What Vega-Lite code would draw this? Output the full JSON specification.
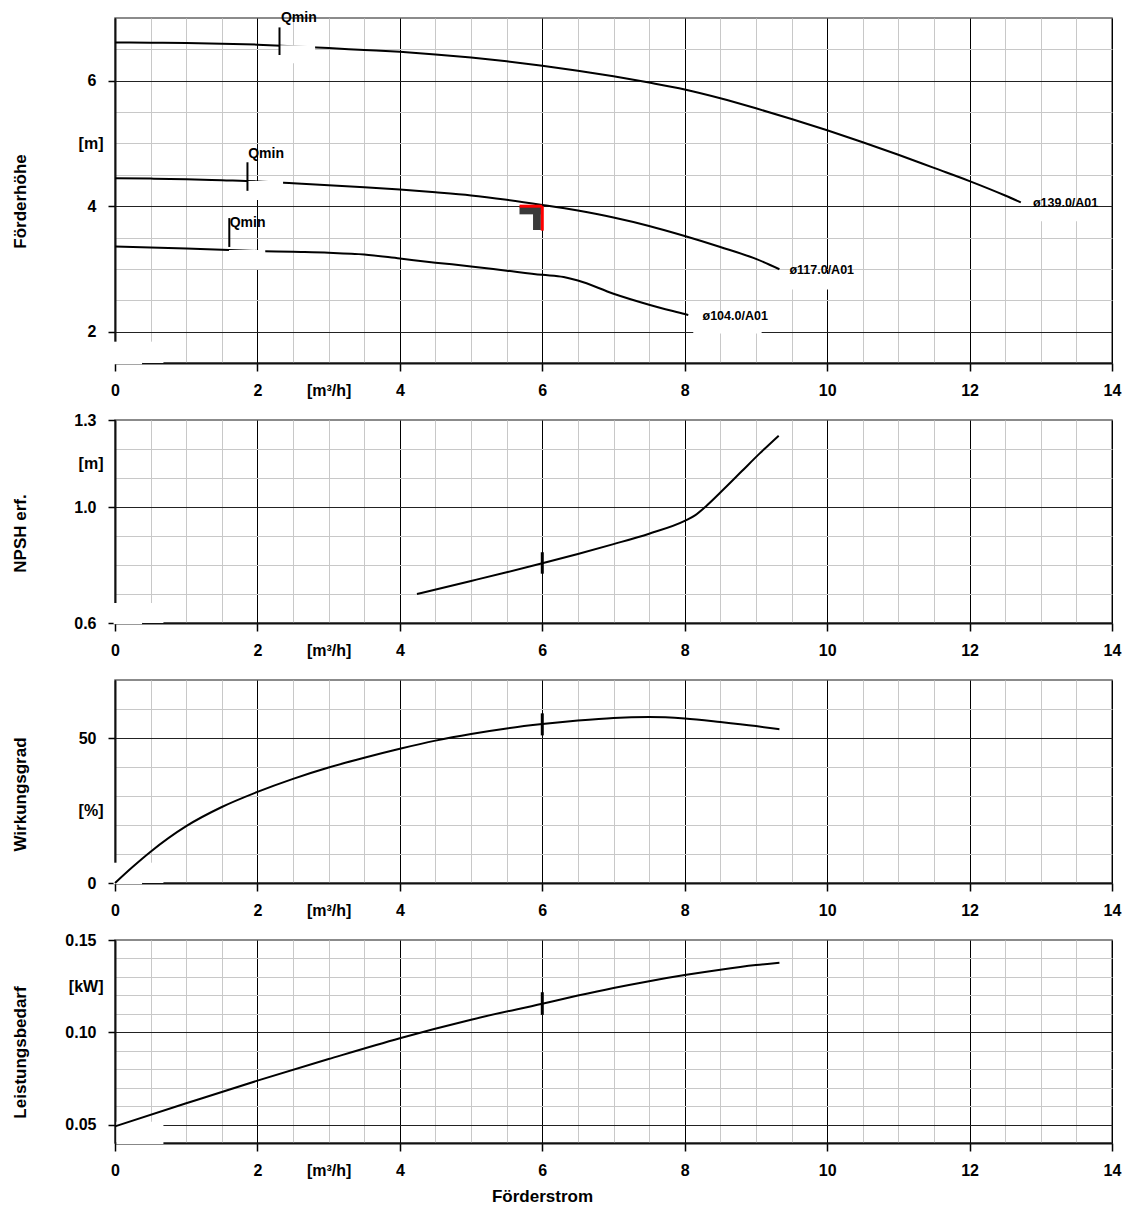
{
  "$schema": "https://vega.github.io/schema/vega-lite/v6.json",
  "background": "white",
  "padding": {"left": 10, "top": 10, "right": 2, "bottom": 5},
  "spacing": 57,
  "bounds": "flush",
  "datasets": {
    "head": [
      {"d":"139","q":0,"v":6.61},{"d":"139","q":0.5,"v":6.605},{"d":"139","q":1,"v":6.6},{"d":"139","q":1.5,"v":6.59},{"d":"139","q":2,"v":6.575},{"d":"139","q":2.5,"v":6.55},{"d":"139","q":3,"v":6.52},{"d":"139","q":3.5,"v":6.49},{"d":"139","q":4,"v":6.46},{"d":"139","q":4.5,"v":6.42},{"d":"139","q":5,"v":6.37},{"d":"139","q":5.5,"v":6.31},{"d":"139","q":6,"v":6.24},{"d":"139","q":6.5,"v":6.16},{"d":"139","q":7,"v":6.07},{"d":"139","q":7.5,"v":5.97},{"d":"139","q":8,"v":5.86},{"d":"139","q":8.5,"v":5.72},{"d":"139","q":9,"v":5.56},{"d":"139","q":9.5,"v":5.39},{"d":"139","q":10,"v":5.21},{"d":"139","q":10.5,"v":5.02},{"d":"139","q":11,"v":4.82},{"d":"139","q":11.5,"v":4.61},{"d":"139","q":12,"v":4.4},{"d":"139","q":12.5,"v":4.17},{"d":"139","q":12.72,"v":4.06},
      {"d":"117","q":0,"v":4.447},{"d":"117","q":0.5,"v":4.44},{"d":"117","q":1,"v":4.43},{"d":"117","q":1.5,"v":4.413},{"d":"117","q":2,"v":4.395},{"d":"117","q":2.5,"v":4.365},{"d":"117","q":3,"v":4.333},{"d":"117","q":3.5,"v":4.3},{"d":"117","q":4,"v":4.265},{"d":"117","q":4.5,"v":4.222},{"d":"117","q":5,"v":4.172},{"d":"117","q":5.5,"v":4.102},{"d":"117","q":6,"v":4.02},{"d":"117","q":6.5,"v":3.93},{"d":"117","q":7,"v":3.82},{"d":"117","q":7.5,"v":3.685},{"d":"117","q":8,"v":3.525},{"d":"117","q":8.5,"v":3.35},{"d":"117","q":9,"v":3.16},{"d":"117","q":9.33,"v":2.995},
      {"d":"104","q":0,"v":3.356},{"d":"104","q":0.5,"v":3.342},{"d":"104","q":1,"v":3.325},{"d":"104","q":1.6,"v":3.3},{"d":"104","q":2.1,"v":3.283},{"d":"104","q":2.5,"v":3.272},{"d":"104","q":3,"v":3.258},{"d":"104","q":3.5,"v":3.23},{"d":"104","q":4,"v":3.165},{"d":"104","q":4.5,"v":3.1},{"d":"104","q":5,"v":3.04},{"d":"104","q":5.5,"v":2.972},{"d":"104","q":6,"v":2.905},{"d":"104","q":6.3,"v":2.87},{"d":"104","q":6.5,"v":2.815},{"d":"104","q":7,"v":2.605},{"d":"104","q":7.5,"v":2.43},{"d":"104","q":8,"v":2.28},{"d":"104","q":8.05,"v":2.265}
    ],
    "qminTicks": [
      {"q":2.31,"v":6.85,"v2":6.41},{"q":1.86,"v":4.7,"v2":4.245},{"q":1.605,"v":3.81,"v2":3.35}
    ],
    "qminText": [
      {"q":2.33,"v":7.0,"t":"Qmin"},{"q":1.87,"v":4.83,"t":"Qmin"},{"q":1.61,"v":3.73,"t":"Qmin"}
    ],
    "curveText": [
      {"q":12.89,"v":4.05,"t":"ø139.0/A01"},{"q":9.47,"v":2.98,"t":"ø117.0/A01"},{"q":8.25,"v":2.25,"t":"ø104.0/A01"}
    ],
    "boxes1": [
      {"q":2.31,"q2":2.81,"v":6.28,"v2":6.565},{"q":1.86,"q2":2.36,"v":4.1,"v2":4.4},{"q":1.6,"q2":2.11,"v":3.0,"v2":3.3},
      {"q":12.75,"q2":13.85,"v":3.76,"v2":3.985},{"q":9.35,"q2":10.45,"v":2.67,"v2":2.92},{"q":8.12,"q2":9.08,"v":1.97,"v2":2.18},
      {"q":-0.02,"q2":0.38,"v":1.48,"v2":1.84},{"q":0.38,"q2":0.68,"v":1.5,"v2":1.84}
    ],
    "dutyMarkBlack": [
      {"q":5.68,"q2":5.98,"v":3.87,"v2":3.99},{"q":5.87,"q2":5.98,"v":3.62,"v2":3.99}
    ],
    "dutyMarkRed": [
      {"q":5.68,"q2":6.0,"v":4.0,"v2":4.0},{"q":6.0,"q2":6.0,"v":4.0,"v2":3.61}
    ],
    "npsh": [
      {"q":4.24,"v":0.7},{"q":5,"v":0.745},{"q":5.5,"v":0.775},{"q":6,"v":0.806},{"q":6.5,"v":0.838},{"q":7,"v":0.872},{"q":7.5,"v":0.908},{"q":8,"v":0.952},{"q":8.15,"v":0.972},{"q":8.3,"v":1.003},{"q":8.55,"v":1.062},{"q":8.8,"v":1.123},{"q":9.05,"v":1.184},{"q":9.32,"v":1.246}
    ],
    "npshTick": [{"q":6,"v":0.77,"v2":0.844}],
    "boxes2": [{"q":-0.02,"q2":0.38,"v":0.596,"v2":0.669},{"q":0.38,"q2":0.68,"v":0.6,"v2":0.669}],
    "eff": [
      {"q":0,"v":0},{"q":0.25,"v":5.6},{"q":0.5,"v":10.8},{"q":1,"v":19.6},{"q":1.5,"v":26.2},{"q":2,"v":31.4},{"q":2.5,"v":35.9},{"q":3,"v":39.8},{"q":3.5,"v":43.2},{"q":4,"v":46.3},{"q":4.5,"v":49.1},{"q":5,"v":51.4},{"q":5.5,"v":53.3},{"q":6,"v":54.8},{"q":6.5,"v":56.0},{"q":7,"v":56.9},{"q":7.5,"v":57.2},{"q":8,"v":56.7},{"q":8.5,"v":55.5},{"q":9,"v":54.1},{"q":9.33,"v":53.0}
    ],
    "effTick": [{"q":6,"v":50.9,"v2":58.5}],
    "boxes3": [{"q":-0.02,"q2":0.38,"v":-0.4,"v2":7},{"q":0.38,"q2":0.68,"v":0,"v2":7}],
    "power": [
      {"q":0,"v":0.049},{"q":1,"v":0.0615},{"q":2,"v":0.0738},{"q":3,"v":0.0855},{"q":4,"v":0.0968},{"q":5,"v":0.1068},{"q":6,"v":0.1155},{"q":6.5,"v":0.1199},{"q":7,"v":0.124},{"q":7.5,"v":0.1277},{"q":8,"v":0.131},{"q":8.5,"v":0.1339},{"q":9,"v":0.1364},{"q":9.33,"v":0.1377}
    ],
    "powerTick": [{"q":6,"v":0.1094,"v2":0.1217}],
    "boxes4": [{"q":0.02,"q2":0.68,"v":0.0395,"v2":0.0515}]
  },
  "vconcat": [
    {
      "width": 997,
      "height": 345,
      "encoding": {
        "x": {"field":"q","type":"quantitative","scale":{"domain":[0,14],"nice":false,"zero":false},
          "axis":{"values":[0,0.5,1,1.5,2,2.5,3,3.5,4,4.5,5,5.5,6,6.5,7,7.5,8,8.5,9,9.5,10,10.5,11,11.5,12,12.5,13,13.5,14],"title":null,"grid":true,
            "gridColor":{"condition":{"test":"datum.value % 2 == 0","value":"#000000"},"value":"#c8c8c8"},
            "tickOpacity":{"condition":{"test":"datum.value % 2 == 0","value":1},"value":0},
            "labelExpr":"datum.value == 3 ? '[m³/h]' : (datum.value % 2 == 0 ? format(datum.value, 'd') : '')"}},
        "y": {"field":"v","type":"quantitative","scale":{"domain":[1.5,7],"nice":false,"zero":false},
          "axis":{"values":[2,2.5,3,3.5,4,4.5,5,5.5,6,6.5],"title":"Förderhöhe","titleX":-95,"titleY":183,"titleAngle":-90,"titleAlign":"center","titleBaseline":"middle","grid":true,
            "gridColor":{"condition":{"test":"datum.value == 2 || datum.value == 4 || datum.value == 6","value":"#222222"},"value":"#c8c8c8"},
            "tickOpacity":{"condition":{"test":"datum.value == 2 || datum.value == 4 || datum.value == 6","value":1},"value":0},
            "labelPadding":{"condition":{"test":"datum.value == 5","value":5},"value":12},
            "labelExpr":"datum.value == 5 ? '[m]' : (datum.value == 2 || datum.value == 4 || datum.value == 6 ? format(datum.value, 'd') : '')"}}
      },
      "layer": [
        {"data":{"name":"head"},"mark":{"type":"line","interpolate":"monotone","color":"#000","strokeWidth":2},"encoding":{"detail":{"field":"d"}}},
        {"data":{"name":"boxes1"},"mark":{"type":"rect","color":"#ffffff"},"encoding":{"x2":{"field":"q2"},"y2":{"field":"v2"}}},
        {"data":{"name":"qminTicks"},"mark":{"type":"rule","color":"#000","strokeWidth":2},"encoding":{"y2":{"field":"v2"}}},
        {"data":{"name":"qminText"},"mark":{"type":"text","align":"left","baseline":"middle","font":"Liberation Sans","fontWeight":"bold","fontSize":14,"color":"#000"},"encoding":{"text":{"field":"t"}}},
        {"data":{"name":"curveText"},"mark":{"type":"text","align":"left","baseline":"middle","font":"Liberation Sans","fontWeight":"bold","fontSize":12.5,"color":"#000"},"encoding":{"text":{"field":"t"}}},
        {"data":{"name":"dutyMarkBlack"},"mark":{"type":"rect","color":"#3a3a3a"},"encoding":{"x2":{"field":"q2"},"y2":{"field":"v2"}}},
        {"data":{"name":"dutyMarkRed"},"mark":{"type":"rule","color":"#ff0000","strokeWidth":3},"encoding":{"x2":{"field":"q2"},"y2":{"field":"v2"}}}
      ]
    },
    {
      "width": 997,
      "height": 203,
      "encoding": {
        "x": {"field":"q","type":"quantitative","scale":{"domain":[0,14],"nice":false,"zero":false},
          "axis":{"values":[0,0.5,1,1.5,2,2.5,3,3.5,4,4.5,5,5.5,6,6.5,7,7.5,8,8.5,9,9.5,10,10.5,11,11.5,12,12.5,13,13.5,14],"title":null,"grid":true,
            "gridColor":{"condition":{"test":"datum.value % 2 == 0","value":"#000000"},"value":"#c8c8c8"},
            "tickOpacity":{"condition":{"test":"datum.value % 2 == 0","value":1},"value":0},
            "labelExpr":"datum.value == 3 ? '[m³/h]' : (datum.value % 2 == 0 ? format(datum.value, 'd') : '')"}},
        "y": {"field":"v","type":"quantitative","scale":{"domain":[0.6,1.3],"nice":false,"zero":false},
          "axis":{"values":[0.6,0.7,0.8,0.9,1.0,1.1,1.15,1.2,1.3],"title":"NPSH erf.","titleX":-95,"titleY":113,"titleAngle":-90,"titleAlign":"center","titleBaseline":"middle","grid":true,
            "gridColor":{"condition":{"test":"datum.value == 1","value":"#222222"},"value":"#c8c8c8"},
            "gridOpacity":{"condition":{"test":"datum.value == 0.6 || datum.value == 1.15 || datum.value == 1.3","value":0},"value":1},
            "tickOpacity":{"condition":{"test":"datum.value == 0.6 || datum.value == 1 || datum.value == 1.3","value":1},"value":0},
            "labelPadding":{"condition":{"test":"datum.value == 1.15","value":5},"value":12},
            "labelExpr":"datum.value == 1.15 ? '[m]' : (datum.value == 0.6 || datum.value == 1 || datum.value == 1.3 ? format(datum.value, '.1f') : '')"}}
      },
      "layer": [
        {"data":{"name":"boxes2"},"mark":{"type":"rect","color":"#ffffff"},"encoding":{"x2":{"field":"q2"},"y2":{"field":"v2"}}},
        {"data":{"name":"npsh"},"mark":{"type":"line","interpolate":"monotone","color":"#000","strokeWidth":2}},
        {"data":{"name":"npshTick"},"mark":{"type":"rule","color":"#000","strokeWidth":3},"encoding":{"y2":{"field":"v2"}}}
      ]
    },
    {
      "width": 997,
      "height": 203,
      "encoding": {
        "x": {"field":"q","type":"quantitative","scale":{"domain":[0,14],"nice":false,"zero":false},
          "axis":{"values":[0,0.5,1,1.5,2,2.5,3,3.5,4,4.5,5,5.5,6,6.5,7,7.5,8,8.5,9,9.5,10,10.5,11,11.5,12,12.5,13,13.5,14],"title":null,"grid":true,
            "gridColor":{"condition":{"test":"datum.value % 2 == 0","value":"#000000"},"value":"#c8c8c8"},
            "tickOpacity":{"condition":{"test":"datum.value % 2 == 0","value":1},"value":0},
            "labelExpr":"datum.value == 3 ? '[m³/h]' : (datum.value % 2 == 0 ? format(datum.value, 'd') : '')"}},
        "y": {"field":"v","type":"quantitative","scale":{"domain":[0,70],"nice":false,"zero":false},
          "axis":{"values":[0,10,20,25,30,40,50,60,70],"title":"Wirkungsgrad","titleX":-95,"titleY":114,"titleAngle":-90,"titleAlign":"center","titleBaseline":"middle","grid":true,
            "gridColor":{"condition":{"test":"datum.value == 50","value":"#222222"},"value":"#c8c8c8"},
            "gridOpacity":{"condition":{"test":"datum.value == 0 || datum.value == 25 || datum.value == 70","value":0},"value":1},
            "tickOpacity":{"condition":{"test":"datum.value == 0 || datum.value == 50","value":1},"value":0},
            "labelPadding":{"condition":{"test":"datum.value == 25","value":5},"value":12},
            "labelExpr":"datum.value == 25 ? '[%]' : (datum.value == 0 || datum.value == 50 ? format(datum.value, 'd') : '')"}}
      },
      "layer": [
        {"data":{"name":"boxes3"},"mark":{"type":"rect","color":"#ffffff"},"encoding":{"x2":{"field":"q2"},"y2":{"field":"v2"}}},
        {"data":{"name":"eff"},"mark":{"type":"line","interpolate":"monotone","color":"#000","strokeWidth":2}},
        {"data":{"name":"effTick"},"mark":{"type":"rule","color":"#000","strokeWidth":3},"encoding":{"y2":{"field":"v2"}}}
      ]
    },
    {
      "width": 997,
      "height": 203,
      "encoding": {
        "x": {"field":"q","type":"quantitative","scale":{"domain":[0,14],"nice":false,"zero":false},
          "axis":{"values":[0,0.5,1,1.5,2,2.5,3,3.5,4,4.5,5,5.5,6,6.5,7,7.5,8,8.5,9,9.5,10,10.5,11,11.5,12,12.5,13,13.5,14],"title":"Förderstrom","titleX":427,"titleY":53,"titleAlign":"center","titleBaseline":"middle","grid":true,
            "gridColor":{"condition":{"test":"datum.value % 2 == 0","value":"#000000"},"value":"#c8c8c8"},
            "tickOpacity":{"condition":{"test":"datum.value % 2 == 0","value":1},"value":0},
            "labelExpr":"datum.value == 3 ? '[m³/h]' : (datum.value % 2 == 0 ? format(datum.value, 'd') : '')"}},
        "y": {"field":"v","type":"quantitative","scale":{"domain":[0.04,0.15],"nice":false,"zero":false},
          "axis":{"values":[0.05,0.06,0.07,0.08,0.09,0.1,0.11,0.12,0.125,0.13,0.14,0.15],"title":"Leistungsbedarf","titleX":-95,"titleY":112,"titleAngle":-90,"titleAlign":"center","titleBaseline":"middle","grid":true,
            "gridColor":{"condition":{"test":"datum.value == 0.05 || datum.value == 0.1","value":"#222222"},"value":"#c8c8c8"},
            "gridOpacity":{"condition":{"test":"datum.value == 0.125 || datum.value == 0.15","value":0},"value":1},
            "tickOpacity":{"condition":{"test":"datum.value == 0.05 || datum.value == 0.1 || datum.value == 0.15","value":1},"value":0},
            "labelPadding":{"condition":{"test":"datum.value == 0.125","value":5},"value":12},
            "labelExpr":"datum.value == 0.125 ? '[kW]' : (datum.value == 0.05 || datum.value == 0.1 || datum.value == 0.15 ? format(datum.value, '.2f') : '')"}}
      },
      "layer": [
        {"data":{"name":"boxes4"},"mark":{"type":"rect","color":"#ffffff"},"encoding":{"x2":{"field":"q2"},"y2":{"field":"v2"}}},
        {"data":{"name":"power"},"mark":{"type":"line","interpolate":"monotone","color":"#000","strokeWidth":2}},
        {"data":{"name":"powerTick"},"mark":{"type":"rule","color":"#000","strokeWidth":3},"encoding":{"y2":{"field":"v2"}}}
      ]
    }
  ],
  "config": {
    "view": {"stroke": "#666666", "strokeWidth": 1.5},
    "axis": {"labelFont":"Liberation Sans","labelFontWeight":"bold","labelFontSize":16,"labelColor":"#000","titleFont":"Liberation Sans","titleFontWeight":"bold","titleFontSize":17,"titleColor":"#000","domainColor":"#111111","domainWidth":2,"tickColor":"#000","tickWidth":1.5,"gridWidth":1,"labelOverlap":false,"labelFlush":false,"labelBound":false},
    "axisX": {"tickSize":8,"labelPadding":11},
    "axisY": {"tickSize":7},
    "text": {"font":"Liberation Sans"}
  }
}
